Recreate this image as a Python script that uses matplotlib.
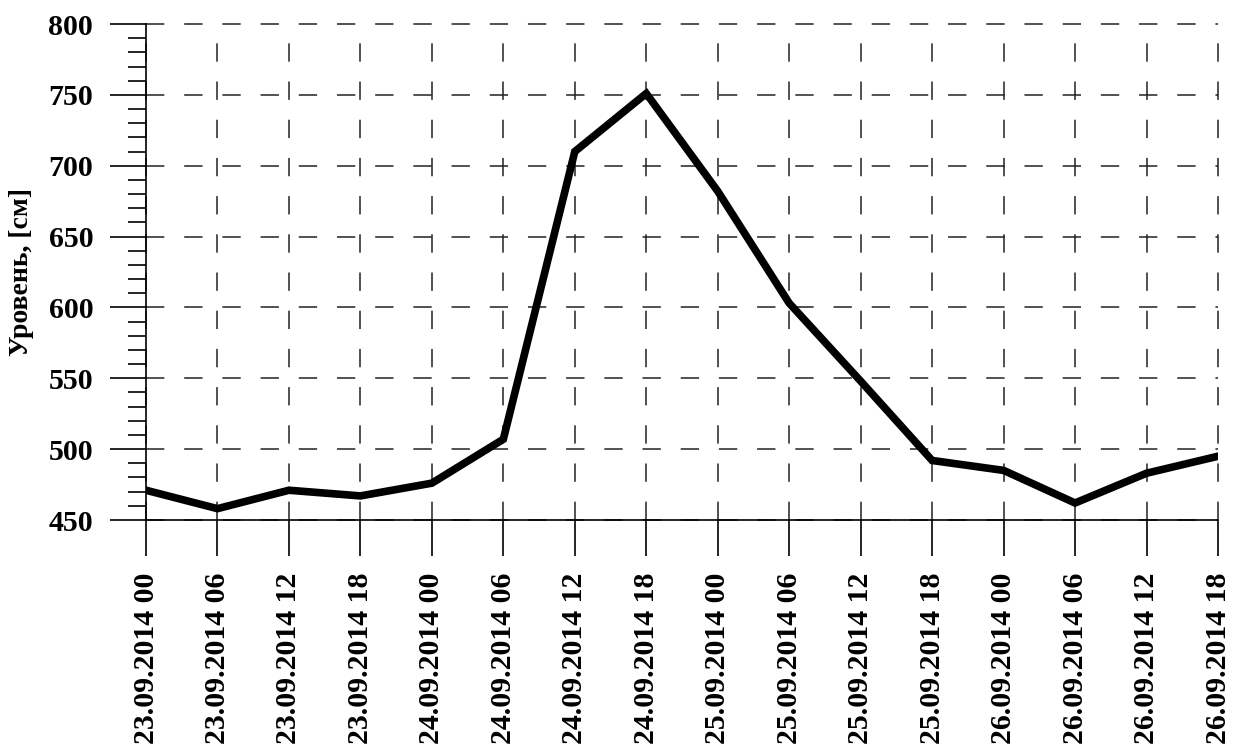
import matplotlib
matplotlib.use("Agg")
import matplotlib.pyplot as plt
from matplotlib.ticker import MultipleLocator

# ------------------------------------------------------------
# Water level, 23-26.09.2014
# ------------------------------------------------------------

times = [
    "23.09.2014 00", "23.09.2014 06", "23.09.2014 12", "23.09.2014 18",
    "24.09.2014 00", "24.09.2014 06", "24.09.2014 12", "24.09.2014 18",
    "25.09.2014 00", "25.09.2014 06", "25.09.2014 12", "25.09.2014 18",
    "26.09.2014 00", "26.09.2014 06", "26.09.2014 12", "26.09.2014 18",
]
levels = [471, 458, 471, 467, 476, 507, 710, 751,
          682, 603, 548, 492, 485, 462, 483, 495]

y_label = "Уровень, [см]"

plt.rcParams["font.family"] = ["Liberation Serif", "DejaVu Serif"]
plt.rcParams["font.weight"] = "bold"

fig = plt.figure(figsize=(12.35, 7.47), dpi=100)
ax = fig.add_axes([146 / 1235, 1 - 520 / 747, (1218 - 146) / 1235, (520 - 24) / 747])

x = list(range(len(times)))
ax.plot(x, levels, color="black", linewidth=5.5, solid_joinstyle="miter", zorder=3)

ax.set_xlim(0, len(times) - 1)
ax.set_ylim(450, 800)
ax.set_xticks(x)
ax.set_xticklabels(times, rotation=90, fontsize=21.5, fontweight="bold")
ax.yaxis.set_major_locator(MultipleLocator(50))
ax.yaxis.set_minor_locator(MultipleLocator(10))
for lbl in ax.get_yticklabels():
    lbl.set_fontsize(21.5)
    lbl.set_fontweight("bold")

ax.tick_params(axis="y", which="major", length=26, width=1.2, pad=12, direction="out")
ax.tick_params(axis="y", which="minor", length=13, width=1.2, direction="out")
ax.tick_params(axis="x", which="major", length=26, width=1.2, pad=12, direction="out")

ax.grid(True, which="major", color="#222222", linewidth=1.1, linestyle=(0, (12, 13)))
for side in ["top", "right"]:
    ax.spines[side].set_visible(False)
for side in ["left", "bottom"]:
    ax.spines[side].set_linewidth(1.2)
for gl in ax.get_xgridlines() + ax.get_ygridlines():
    gl.set_clip_on(False)

fig.text(22 / 1235, 1 - 272 / 747, y_label, rotation=90, fontsize=20,
         fontweight="bold", ha="center", va="center")

fig.savefig("out.png", dpi=100)
